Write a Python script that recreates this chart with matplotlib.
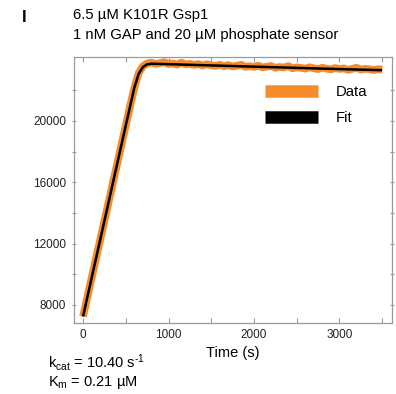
import matplotlib
matplotlib.use("Agg")
import matplotlib.pyplot as plt
from matplotlib.ticker import FixedLocator, MultipleLocator

plt.rcParams["font.family"] = ["Liberation Sans", "DejaVu Sans"]
plt.rcParams["mathtext.fontset"] = "custom"
plt.rcParams["mathtext.rm"] = "Liberation Sans"
plt.rcParams["mathtext.it"] = "Liberation Sans"

time_s = [0, 50, 100, 150, 200, 250, 300, 350, 400, 450, 500, 550, 600, 650,
          700, 750, 800, 850, 900, 950, 1000, 1050, 1100, 1150, 1200, 1250,
          1300, 1350, 1400, 1450, 1500, 1550, 1600, 1650, 1700, 1750, 1800,
          1850, 1900, 1950, 2000, 2050, 2100, 2150, 2200, 2250, 2300, 2350,
          2400, 2450, 2500, 2550, 2600, 2650, 2700, 2750, 2800, 2850, 2900,
          2950, 3000, 3050, 3100, 3150, 3200, 3250, 3300, 3350, 3400, 3450,
          3500]
signal = [7250, 8500, 9740, 10990, 12230, 13480, 14720, 15970, 17210, 18460,
          19700, 20950, 22150, 23100, 23560, 23740, 23790, 23710, 23760, 23830,
          23700, 23740, 23660, 23790, 23680, 23710, 23640, 23700, 23600, 23690,
          23620, 23580, 23650, 23560, 23630, 23540, 23590, 23650, 23520, 23560,
          23510, 23590, 23480, 23530, 23570, 23450, 23510, 23470, 23570, 23420,
          23480, 23450, 23400, 23490, 23420, 23370, 23460, 23400, 23350, 23440,
          23380, 23420, 23320, 23390, 23460, 23340, 23390, 23360, 23300, 23370,
          23330]

# fitted curve
fit_t = [0, 100, 200, 300, 400, 500, 600, 650, 700, 750, 800, 1000, 1500,
         2000, 2500, 3000, 3500]
fit_y = [7250, 9740, 12230, 14720, 17210, 19700, 22150, 23050, 23500, 23680,
         23720, 23690, 23610, 23530, 23450, 23370, 23300]

orange = "#f68b2c"
gray = "#9a9a9a"

fig = plt.figure(figsize=(3.96, 3.94), dpi=100)
ax = fig.add_axes([0.187, 0.180, 0.803, 0.675])

ax.plot(time_s, signal, color=orange, lw=5.5, solid_capstyle="butt", label="Data")
ax.plot(fit_t, fit_y, color="black", lw=1.8, solid_capstyle="butt", label="Fit")

ax.set_xlim(-105, 3615)
ax.set_ylim(6820, 24150)
ax.xaxis.set_major_locator(MultipleLocator(1000))
ax.xaxis.set_minor_locator(MultipleLocator(500))
ax.yaxis.set_major_locator(FixedLocator([8000, 12000, 16000, 20000]))
ax.yaxis.set_minor_locator(FixedLocator([10000, 14000, 18000, 22000]))
ax.tick_params(which="both", direction="in", top=True, right=True,
               length=3.5, width=0.8, color=gray, labelsize=8.5, pad=4,
               labelcolor="#222222")
ax.tick_params(axis="y", which="both", direction="inout", left=True)
for s in ax.spines.values():
    s.set_color(gray)
    s.set_linewidth(0.9)

ax.set_xlabel("Time (s)", fontsize=10.5, labelpad=4)

leg = ax.legend(loc="upper right", bbox_to_anchor=(0.965, 0.945), frameon=False,
                fontsize=10.7, handlelength=3.6, handletextpad=1.2,
                labelspacing=0.8)
for h in leg.get_lines():
    h.set_linewidth(9)
    h.set_solid_capstyle("butt")

fig.text(0.055, 0.955, "I", fontsize=12, fontweight="bold", va="center")
fig.text(0.184, 0.962, "6.5 \u00b5M K101R Gsp1", fontsize=10.7, va="center")
fig.text(0.184, 0.911, "1 nM GAP and 20 \u00b5M phosphate sensor", fontsize=10.7,
         va="center")
fig.text(0.121, 0.081, r"k$_{\rm cat}$ = 10.40 s$^{\text{-1}}$", fontsize=10.5,
         va="center")
fig.text(0.121, 0.030, "K$_{\\rm m}$ = 0.21 \u00b5M", fontsize=10.5,
         va="center")

fig.savefig("out.png", dpi=100)
